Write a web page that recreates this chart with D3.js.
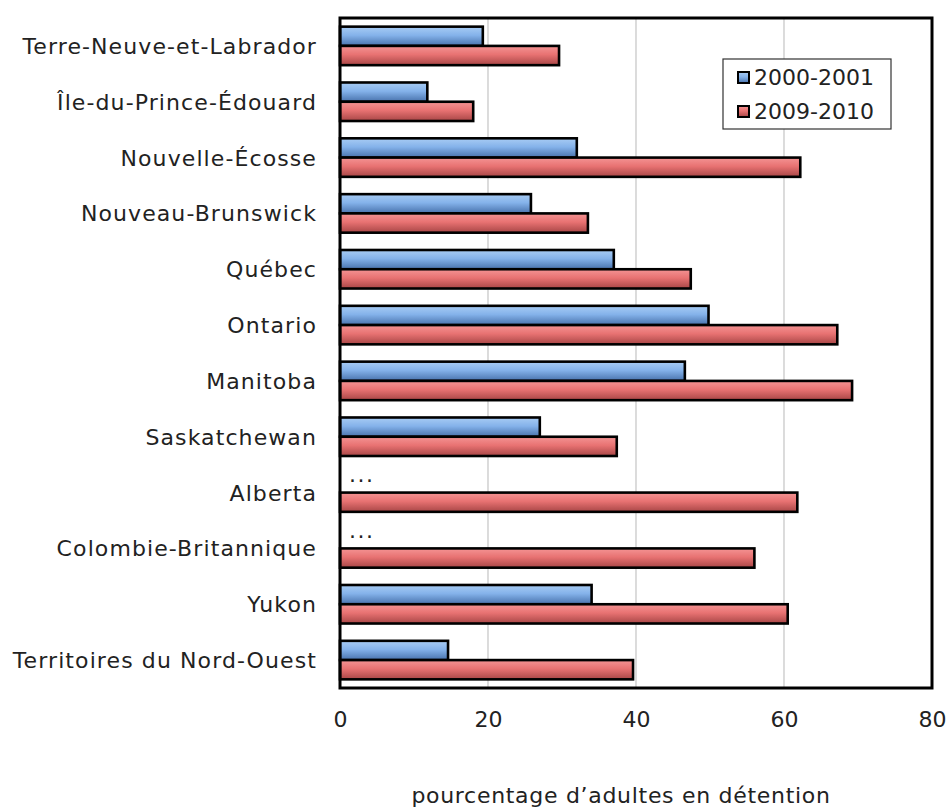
<!DOCTYPE html>
<html><head><meta charset="utf-8">
<script src="https://cdn.jsdelivr.net/npm/d3@7"></script>
<style>
html,body{margin:0;padding:0;background:#fff;}
svg{display:block;font-family:"DejaVu Sans",Verdana,sans-serif;}
</style></head>
<body><svg id="c" width="948" height="807"></svg>
<script>
const categories = ["Terre-Neuve-et-Labrador","Île-du-Prince-Édouard","Nouvelle-Écosse","Nouveau-Brunswick","Québec","Ontario","Manitoba","Saskatchewan","Alberta","Colombie-Britannique","Yukon","Territoires du Nord-Ouest"];
const series = ["2000-2001","2009-2010"];
const values2000 = [19.3, 11.8, 32.0, 25.8, 37.0, 49.8, 46.6, 27.0, null, null, 34.0, 14.6];
const values2009 = [29.6, 18.0, 62.2, 33.5, 47.4, 67.2, 69.2, 37.4, 61.8, 56.0, 60.5, 39.6];
const xTicks = [0, 20, 40, 60, 80];
const xTitle = "pourcentage d’adultes en détention";
const missingLabel = "...";

const svg = d3.select("#c");
const m = {left:340, top:18, right:932, bottom:688};
const FS = 22;

const x = d3.scaleLinear().domain([0,80]).range([m.left, m.right]);
const y = d3.scaleBand().domain(categories).range([m.top, m.bottom]).paddingInner(0.31).paddingOuter(0.155);
const ys = d3.scaleBand().domain(series).range([0, y.bandwidth()]);

const defs = svg.append("defs");
const grads = [
  {id:"gb", stops:[["0%","#a8ccf4"],["45%","#84b2ea"],["100%","#4872ac"]]},
  {id:"gr", stops:[["0%","#f49494"],["45%","#e87272"],["100%","#a84646"]]}
];
grads.forEach(g=>{
  const lg = defs.append("linearGradient").attr("id",g.id).attr("x1",0).attr("y1",0).attr("x2",0).attr("y2",1);
  g.stops.forEach(s=>lg.append("stop").attr("offset",s[0]).attr("stop-color",s[1]));
});
const fills = {"2000-2001":"url(#gb)","2009-2010":"url(#gr)"};

// gridlines
svg.append("g").selectAll("line").data(xTicks.filter(t=>t>0 && t<80)).join("line")
  .attr("x1",d=>x(d)).attr("x2",d=>x(d)).attr("y1",m.top).attr("y2",m.bottom)
  .attr("stroke","#c4c4c4").attr("stroke-width",1.2);

// bars
const rows = categories.map((c,i)=>({c, vals:[{s:series[0],v:values2000[i]},{s:series[1],v:values2009[i]}]}));
const gRow = svg.append("g").selectAll("g").data(rows).join("g")
  .attr("transform",d=>`translate(0,${y(d.c)})`);
gRow.selectAll("rect").data(d=>d.vals.filter(e=>e.v!=null)).join("rect")
  .attr("x",x(0)).attr("y",d=>ys(d.s)).attr("width",d=>x(d.v)-x(0)).attr("height",ys.bandwidth())
  .attr("fill",d=>fills[d.s]).attr("stroke","#000").attr("stroke-width",2.6);
gRow.selectAll("text.miss").data(d=>d.vals.filter(e=>e.v==null)).join("text")
  .attr("class","miss").attr("x",x(0)+9).attr("y",d=>ys(d.s)+ys.bandwidth()/2-1)
  .attr("font-size",FS).attr("letter-spacing",1.5).attr("fill","#222").text(missingLabel);

// frame
svg.append("rect").attr("x",m.left).attr("y",m.top).attr("width",m.right-m.left).attr("height",m.bottom-m.top)
  .attr("fill","none").attr("stroke","#000").attr("stroke-width",3);

// y labels
svg.append("g").selectAll("text").data(categories).join("text")
  .attr("x",317).attr("y",d=>y(d)+y.bandwidth()/2).attr("dy","0.36em")
  .attr("text-anchor","end").attr("font-size",FS).attr("letter-spacing",1.1).attr("fill","#222").text(d=>d);

// x axis via d3.axisBottom
const xa = svg.append("g").attr("transform",`translate(0,${m.bottom})`)
  .call(d3.axisBottom(x).tickValues(xTicks).tickSize(0).tickPadding(23));
xa.select(".domain").remove();
xa.selectAll("text").attr("font-size",FS).attr("fill","#222").attr("font-family","DejaVu Sans, Verdana, sans-serif");

// x title
svg.append("text").attr("x",621).attr("y",803).attr("text-anchor","middle")
  .attr("font-size",FS).attr("letter-spacing",0.7).attr("fill","#222").text(xTitle);

// legend
const lg = svg.append("g");
lg.append("rect").attr("x",723).attr("y",59).attr("width",168).attr("height",70)
  .attr("fill","#fff").attr("stroke","#333").attr("stroke-width",1.2);
series.forEach((s,i)=>{
  const cy = 77 + i*34;
  lg.append("rect").attr("x",738).attr("y",cy-5).attr("width",11).attr("height",11)
    .attr("fill",fills[s]).attr("stroke","#000").attr("stroke-width",2);
  lg.append("text").attr("x",754).attr("y",cy).attr("dy","0.36em").attr("font-size",FS).attr("fill","#222").text(s);
});
</script></body></html>
